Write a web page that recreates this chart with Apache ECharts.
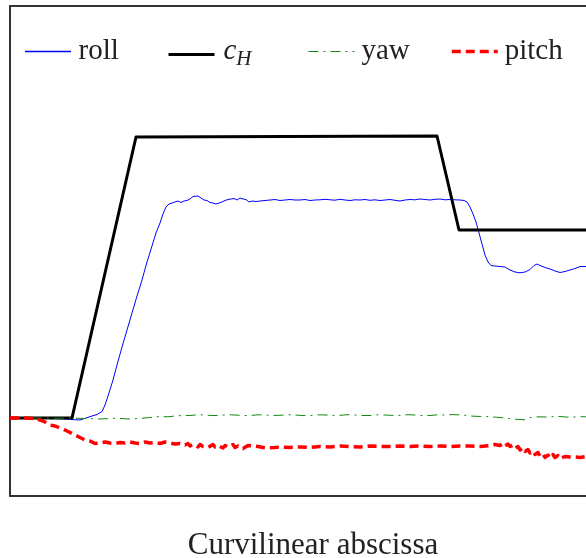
<!DOCTYPE html>
<html><head><meta charset="utf-8">
<script src="https://cdn.jsdelivr.net/npm/echarts@6/dist/echarts.min.js"></script>
<style>html,body{margin:0;padding:0;background:#fff}#c{width:586px;height:558px}</style>
</head><body><div id="c"></div>
<script>
// x: curvilinear abscissa (arbitrary units), y: angle (arbitrary units)
const rollX = [0,20,40,55,62,70,76,82,87,92,95,98,103,107,112,117,122,127,132,137,142,146,150,153,156,159,162,165,168,171,174,177,180,183,185,188,191,194,197,200,203,206,209,212,215,218,221,224,227,230,233,236,239,242,246,250,255,260,265,270,275,280,285,290,295,300,305,310,315,320,325,330,335,340,345,350,355,360,365,370,375,380,385,390,395,400,405,410,415,420,425,430,435,440,445,450,454,457,460,463,466,469,472,475,478,481,485,490,495,500,505,510,515,520,524,527,530,535,540,545,550,555,560,565,570,576,582,590];
const rollY = [0,-0.5,-0.5,-1,-1.5,-2,0,2,3.5,6.5,13,22,38,53,71,88,105,122,138,156,172,185,195,204,211,214,215,216,217,215.5,217,217.5,219,221.5,223,222,220,218,217.5,215.5,215,214,215,216,217.5,218.5,219,219.5,218,220,219,218.5,216,217,216.5,217,217.5,218,218.5,217.5,218,218.5,218,218,218.5,217.5,218,218.2,218.7,218.2,217.8,218.7,218,217.5,218.2,218,218.5,217.7,218.2,217.5,218,218.5,217.7,217,218,218.5,218.2,219,218.5,218,218.7,219,218.2,218.5,218.2,218,217.5,216,211,204,196,185,174,163,156,152.5,152,151.5,151,148,146,145.2,146,148.5,152.5,154,152.5,150.5,149,147,145.5,146.5,148,149.5,151.5,151.5,150.5,150];

const cHX = [0,62,126,128,427,449,590];
const cHY = [0,0,281,282,282,188,188];

const yawX = [0,15,30,45,60,75,90,105,120,135,150,158,165,173,180,188,195,203,210,218,225,233,240,248,255,263,270,278,285,293,300,308,315,323,330,338,345,353,360,368,375,383,390,398,405,413,420,428,435,442,448,455,460,468,475,483,490,496,502,510,515,520,528,535,543,550,558,565,573,580,590];
const yawY = [0,0.3,0,-0.3,0,-0.5,-1,-0.3,-1,0,1.5,1.2,2,2.6,2.5,3.2,3,2.4,2.7,3.3,3,2.5,2.5,3.2,3,2.6,2.7,3.3,3,2.4,2.5,3.2,3,2.6,2.7,3.3,3,2.5,2.5,3.2,3,2.6,2.7,3.3,3,2.4,2.5,3.2,3,3.4,3.2,2.8,2,1.6,1.5,1,0.5,0,-1,-1.5,-1.8,0.5,1.2,1,1.3,1.5,0.8,1,1.3,1,1];

const pitchX = [0,15,25,30,35,40,45,50,55,60,65,70,75,80,85,90,95,100,105,110,115,120,125,130,135,140,145,150,155,160,165,170,175,178,180,183,185,188,190,193,195,198,200,203,205,208,210,213,215,218,220,223,225,228,230,233,235,238,240,243,245,248,250,253,255,258,260,265,270,280,290,300,310,320,330,340,350,360,370,380,390,400,410,420,430,440,450,460,470,480,485,490,493,495,498,500,503,505,508,510,513,515,518,520,523,525,528,530,533,535,538,540,543,545,548,550,555,560,565,570,576,582,590];
const pitchY = [0,0,-0.5,-2,-4,-7,-8,-10,-12,-14.5,-17,-19.5,-22,-23,-25.5,-25,-24,-25,-25.5,-24.5,-25,-24,-25,-25.5,-24,-25,-24.5,-25.5,-24,-25,-26,-25.5,-27,-25.5,-28,-26.5,-27.5,-29,-26.5,-28.5,-27,-29.5,-28,-26.5,-29,-27.5,-28.5,-30,-27.5,-29,-28,-26.5,-29.5,-28,-27,-30.5,-28.5,-27.5,-29.5,-28,-30,-28.5,-27,-29.5,-28,-30,-28.5,-29.5,-29,-29.5,-29,-29.5,-28.5,-29,-28,-28.5,-29,-28,-28.5,-28.5,-28,-28.5,-28,-28.5,-28,-28.5,-28,-28,-28.5,-27.5,-26.5,-27.5,-25.5,-28,-26,-28.5,-27,-30,-28.5,-32,-30,-33.5,-31.5,-35,-33,-36.5,-34.5,-38,-36,-39.5,-37,-40,-36.5,-39.5,-37.5,-40.5,-38.5,-39,-39,-39.5,-38.5,-38,-38.5];

const legendNames = ['roll', 'c_H', 'yaw', 'pitch'];
const axisTitle = 'Curvilinear abscissa';

const pairs = (xs, ys) => xs.map((x, i) => [x, ys[i]]);
const FONT = 'Liberation Serif';

const COLORS = ['#0000ff', '#000000', '#118811', '#ff0000'];
const WIDTHS = [1, 3, 1, 3.5];
const TYPES = ['solid', 'solid', [10, 5, 2, 5], [9, 5]];

const chart = echarts.init(document.getElementById('c'), null, {renderer: 'canvas'});
const legendLefts = [25, 167, 308, 450];
const frameLine = {show: true, onZero: false, lineStyle: {color: '#333', width: 2}};
const hidden = {axisTick: {show: false}, axisLabel: {show: false}, splitLine: {show: false}};
const seriesData = [pairs(rollX, rollY), pairs(cHX, cHY), pairs(yawX, yawY), pairs(pitchX, pitchY)];
const makeTextStyle = () => ({
  fontFamily: FONT, fontSize: 29, color: '#222', padding: [0, 0, 0, 2],
  rich: {
    c: {fontFamily: FONT, fontStyle: 'italic', fontSize: 29, color: '#222', padding: [0, 0, 6, 2]},
    h: {fontFamily: FONT, fontStyle: 'italic', fontSize: 21, color: '#222', padding: [10, 0, 0, 0]}
  }
});
const legends = legendNames.map((n, i) => ({
  data: [n],
  left: legendLefts[i], top: 37, padding: 0, itemWidth: 46, itemHeight: 14,
  itemStyle: {opacity: 0},
  lineStyle: {width: WIDTHS[i], color: COLORS[i], type: TYPES[i], opacity: i === 0 ? 0 : 1},
  textStyle: makeTextStyle(),
  formatter: name => name === 'c_H' ? '{c|c}{h|H}' : name
}));
chart.setOption({
  animation: false,
  backgroundColor: '#fff',
  title: {
    text: axisTitle, left: 308, top: 525, textAlign: 'center',
    textStyle: {fontFamily: FONT, fontWeight: 'normal', fontSize: 31, color: '#222'}
  },
  legend: legends,
  // swatch for the "roll" legend entry (drawn explicitly so it keeps its blue colour)
  graphic: [{
    type: 'line', z: 100, silent: true,
    shape: {x1: legendLefts[0], y1: 51.5, x2: legendLefts[0] + 46, y2: 51.5},
    style: {stroke: COLORS[0], lineWidth: 1.3}
  }],
  grid: {left: 10, top: 6, right: 0, bottom: 62},
  xAxis: [
    Object.assign({type: 'value', min: 0, max: 576, position: 'bottom', axisLine: frameLine}, hidden),
    Object.assign({type: 'value', min: 0, max: 576, position: 'top', axisLine: frameLine}, hidden)
  ],
  yAxis: Object.assign({type: 'value', min: -78, max: 412, axisLine: frameLine}, hidden),
  series: legendNames.map((n, i) => ({
    name: n, type: 'line', symbol: 'none', data: seriesData[i],
    lineStyle: {color: COLORS[i], width: WIDTHS[i], type: TYPES[i], join: 'round'},
    itemStyle: {color: COLORS[i]}
  }))
});
</script></body></html>
